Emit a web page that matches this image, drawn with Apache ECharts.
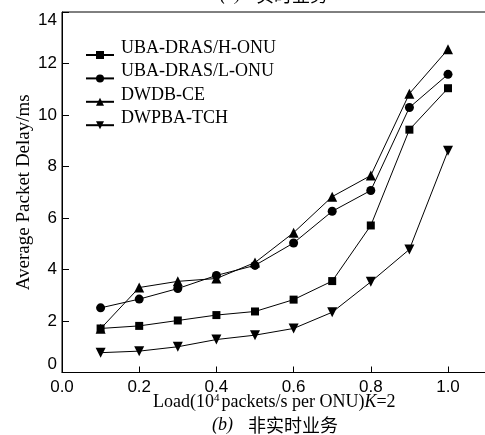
<!DOCTYPE html>
<html>
<head>
<meta charset="utf-8">
<script src="https://cdn.jsdelivr.net/npm/echarts@6/dist/echarts.min.js"></script>
<style>html,body{margin:0;padding:0;background:#fff}#c{width:485px;height:435px}</style>
</head>
<body>
<div id="c"></div>
<script>
var loads = [0.1, 0.2, 0.3, 0.4, 0.5, 0.6, 0.7, 0.8, 0.9, 1.0];
var hOnu  = [1.71, 1.81, 2.02, 2.23, 2.37, 2.83, 3.55, 5.71, 9.43, 11.04];
var lOnu  = [2.51, 2.85, 3.26, 3.77, 4.16, 5.03, 6.26, 7.07, 10.29, 11.58];
var dwdb  = [1.70, 3.30, 3.54, 3.65, 4.27, 5.43, 6.83, 7.65, 10.83, 12.55];
var dwpba = [0.77, 0.83, 1.00, 1.28, 1.45, 1.71, 2.34, 3.52, 4.78, 8.61];
var seriesNames = ['UBA-DRAS/H-ONU', 'UBA-DRAS/L-ONU', 'DWDB-CE', 'DWPBA-TCH'];
var xTicks = [0, 0.2, 0.4, 0.6, 0.8, 1.0];

function pairs(arr) { return loads.map(function (x, i) { return [x, arr[i]]; }); }
function mk(name, data, symbol, size, rotate) {
  return {
    name: name, type: 'line', data: pairs(data),
    symbol: symbol, symbolSize: size, symbolRotate: rotate || 0,
    lineStyle: { color: '#000', width: 1 },
    itemStyle: { color: '#000' },
    showAllSymbol: true, animation: false
  };
}
var serif = '"Liberation Serif", "Times New Roman", serif';
var sans = '"Liberation Sans", Arial, sans-serif';
var cjk = '"Noto Sans CJK SC", sans-serif';
var chart = echarts.init(document.getElementById('c'));
chart.setOption({
  backgroundColor: '#fff',
  animation: false,
  grid: { left: 62, top: 12, width: 424.6, height: 360.5, show: true, borderColor: '#000', borderWidth: 1,
          backgroundColor: 'transparent', containLabel: false, outerBoundsMode: 'none' },
  legend: {
    left: 85, top: 39, orient: 'vertical', padding: 0,
    itemWidth: 28, itemHeight: 10, itemGap: 3.4,
    data: seriesNames,
    formatter: function (n) { return '{a|' + n + '}'; },
    textStyle: { fontFamily: serif, fontSize: 18, color: '#000',
      rich: { a: { fontFamily: serif, fontSize: 18, color: '#000', padding: [0, 0, 14, 2] } } }
  },
  xAxis: {
    type: 'value', min: 0, max: 1.1, interval: 0.2,
    axisLine: { lineStyle: { color: '#000', width: 1 } },
    axisTick: { inside: true, length: 6, lineStyle: { color: '#000' } },
    splitLine: { show: false },
    axisLabel: { color: '#000', fontFamily: sans, fontSize: 17, margin: 6,
      formatter: function (v) { return xTicks.some(function (t) { return Math.abs(t - v) < 1e-9; }) ? v.toFixed(1) : ''; } },
    name: 'Load(10{sup|4}packets/s per ONU){it|K}=2',
    nameLocation: 'middle', nameGap: 20, nameMoveOverlap: false,
    nameTextStyle: { fontFamily: serif, fontSize: 18, color: '#000',
      rich: { sup: { fontFamily: serif, fontSize: 11, verticalAlign: 'top', padding: [0, 2, 8, 0], color: '#000' },
              it: { fontFamily: serif, fontSize: 18, fontStyle: 'italic', color: '#000' } } }
  },
  yAxis: {
    type: 'value', min: 0, max: 14, interval: 2,
    axisLine: { show: true, lineStyle: { color: '#000', width: 1 } },
    axisTick: { show: true, inside: true, length: 7, lineStyle: { color: '#000' } },
    splitLine: { show: false },
    axisLabel: { color: '#000', fontFamily: sans, fontSize: 17, margin: 5,
      verticalAlignMinLabel: 'bottom', verticalAlignMaxLabel: 'top' },
    name: 'Average Packet Delay/ms', nameLocation: 'middle', nameGap: 28, nameMoveOverlap: false,
    nameTextStyle: { fontFamily: serif, fontSize: 19, color: '#000' }
  },
  graphic: [
    { type: 'text', left: 212, top: 416, style: { text: '{i|(b)}{c|非实时业务}',
      rich: { i: { fontFamily: serif, fontStyle: 'italic', fontSize: 18, fill: '#000' },
              c: { fontFamily: cjk, fontSize: 18, fill: '#000', padding: [0, 0, 0, 15] } } } },
    { type: 'text', left: 220, top: -14, style: { text: '{i|(a)}{c|实时业务}',
      rich: { i: { fontFamily: serif, fontStyle: 'italic', fontSize: 18, fill: '#000' },
              c: { fontFamily: cjk, fontSize: 18, fill: '#000', padding: [0, 0, 0, 15] } } } }
  ],
  series: [
    mk(seriesNames[0], hOnu, 'rect', 8),
    mk(seriesNames[1], lOnu, 'circle', 9),
    mk(seriesNames[2], dwdb, 'triangle', 10),
    mk(seriesNames[3], dwpba, 'triangle', 10, 180)
  ]
});
</script>
</body>
</html>
